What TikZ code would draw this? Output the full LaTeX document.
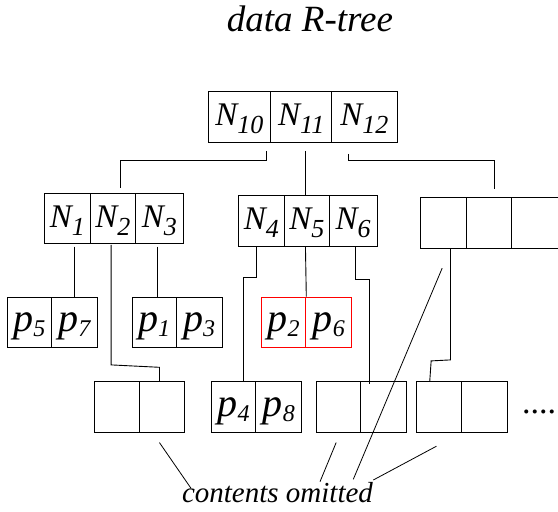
\documentclass[tikz,border=0pt]{standalone}
\usepackage{fontspec}
\newfontfamily\tnr{Liberation Serif}
\usetikzlibrary{calc}

% entry labels: N_i for directory entries, p_i for data points
\newcommand\Nlab[1]{{\tnr\fontsize{33}{33}\selectfont\itshape N\raisebox{-8pt}{\fontsize{26}{26}\selectfont #1}}}
\newcommand\plab[1]{{\tnr\fontsize{40}{40}\selectfont\itshape p\raisebox{-5pt}{\fontsize{24}{24}\selectfont #1}}}

\tikzset{
  cell/.style={draw=black, line width=0.9pt, anchor=north west, inner sep=0pt,
               text height=18pt, text depth=0pt},
  redcell/.style={cell, draw=red, line width=1pt},
  link/.style={draw=black, line width=0.9pt},
  pointer/.style={draw=black, line width=0.8pt},
}

\begin{document}
\begin{tikzpicture}[x=1pt, y=-1pt]
\useasboundingbox (0,0) rectangle (558,512);

% title
\node[anchor=base, inner sep=0pt] (title) at (310,31.7)
  {\tnr\fontsize{37}{37}\selectfont\itshape data R-tree};

% root
\node[cell, minimum width=62.6pt, minimum height=51pt] (r1) at (207.7,91) {\Nlab{10}};
\node[cell, minimum width=61pt,   minimum height=51pt] (r2) at (270.3,91) {\Nlab{11}};
\node[cell, minimum width=65.4pt, minimum height=51pt] (r3) at (331.3,91) {\Nlab{12}};

% second level
\node[cell, minimum width=46.3pt, minimum height=50.6pt] (n1) at (43.7,192.7) {\Nlab{1}};
\node[cell, minimum width=44.7pt, minimum height=50.6pt] (n2) at (90,192.7)   {\Nlab{2}};
\node[cell, minimum width=48.3pt, minimum height=50.6pt] (n3) at (134.7,192.7){\Nlab{3}};

\node[cell, minimum width=46.6pt, minimum height=51pt] (n4) at (237.7,195) {\Nlab{4}};
\node[cell, minimum width=44.4pt, minimum height=51pt] (n5) at (284.3,195) {\Nlab{5}};
\node[cell, minimum width=48pt,   minimum height=51pt] (n6) at (328.7,195) {\Nlab{6}};

\node[cell, minimum width=46pt, minimum height=51pt] (e1) at (420.3,197.3) {};
\node[cell, minimum width=45pt, minimum height=51pt] (e2) at (466.3,197.3) {};
\node[cell, minimum width=48pt, minimum height=51pt] (e3) at (511.3,197.3) {};

% leaves, first row
\node[cell, minimum width=44.3pt, minimum height=50pt] (p5) at (6.7,296.7)  {\plab{5}};
\node[cell, minimum width=46pt,   minimum height=50pt] (p7) at (51,296.7)   {\plab{7}};
\node[cell, minimum width=44pt,   minimum height=50pt] (p1) at (131.7,296.7){\plab{1}};
\node[cell, minimum width=46pt,   minimum height=50pt] (p3) at (175.7,296.7){\plab{3}};
\node[redcell, minimum width=44.6pt, minimum height=50pt] (p2) at (260.7,296.7){\plab{2}};
\node[redcell, minimum width=46pt,   minimum height=50pt] (p6) at (305.3,296.7){\plab{6}};

% leaves, second row
\node[cell, minimum width=44.4pt, minimum height=50.7pt] (a1) at (94.3,381.3)  {};
\node[cell, minimum width=45.6pt, minimum height=50.7pt] (a2) at (138.7,381.3) {};
\node[cell, minimum width=44.3pt, minimum height=50.7pt] (p4) at (211,381.3)   {\plab{4}};
\node[cell, minimum width=46pt,   minimum height=50.7pt] (p8) at (255.3,381.3) {\plab{8}};
\node[cell, minimum width=44.3pt, minimum height=50.7pt] (c1) at (316,381.3)   {};
\node[cell, minimum width=45.7pt, minimum height=50.7pt] (c2) at (360.3,381.3) {};
\node[cell, minimum width=44.4pt, minimum height=50.7pt] (d1) at (416.3,381.3) {};
\node[cell, minimum width=46pt,   minimum height=50.7pt] (d2) at (460.7,381.3) {};

\node[anchor=base west, inner sep=0pt] (dots) at (522,413.5)
  {\tnr\fontsize{34}{34}\selectfont ....};

% root to second level
\draw[link] ($(r1.south east)+(-4.6,8)$) -- ++(0,9.3) -| ($(n2.north)+(7.7,-4.7)$);
\draw[link] ($(r2.south)+(4.2,8)$) -- ($(n5.north)+(-1.5,0)$);
\draw[link] ($(r3.south west)+(17,11)$) -- ++(0,6.5) -| ($(e2.north)+(5.2,-8)$);

% second level to leaves
\draw[link] ($(n1.south)+(6.85,2.4)$) |- (p7.north);
\draw[link] ($(n3.south)+(-2.15,2.4)$) |- ($(p1.north)+(3,0)$);
\draw[link] ($(n2.south)+(-1.65,0.7)$) -- ++(0,120) -- ($(a2.north)+(-2.5,-14)$) -- ($(a2.north)+(-2.5,0)$);
\draw[link] ($(n4.south)+(-5,0)$) -- ++(0,31) -| ($(p4.north)+(9.35,0)$);
\draw[link] ($(n5.south)+(-1.5,0)$) -- (p2.north east);
\draw[link] ($(n6.south)+(2.6,0)$) -- ++(0,32.3) -| ($(c2.north)+(-13.85,2.7)$);
\draw[link] ($(e1.south)+(6.7,0)$) -- ++(0,110.7) -- ++(-19.3,1) -- ($(d1.north)+(-9.2,0)$);

% caption for the nodes whose entries are not shown
\node[anchor=base, inner sep=0pt] (omit) at (277.5,502.3)
  {\tnr\fontsize{29}{29}\selectfont\itshape contents omitted};

\draw[pointer] ($(a2.south)+(-2.5,9.7)$) -- ($(omit.base)+(-86.5,-14)$);
\draw[pointer] ($(c1.south)+(-2.45,9.7)$) -- ($(omit.base)+(42.5,-20.6)$);
\draw[pointer] ($(e1.south)+(-1.6,19)$) -- ($(omit.base)+(75.8,-23)$);
\draw[pointer] ($(d1.south)+(-2.5,13.3)$) -- ($(omit.base)+(95.8,-22.3)$);
\end{tikzpicture}
\end{document}
